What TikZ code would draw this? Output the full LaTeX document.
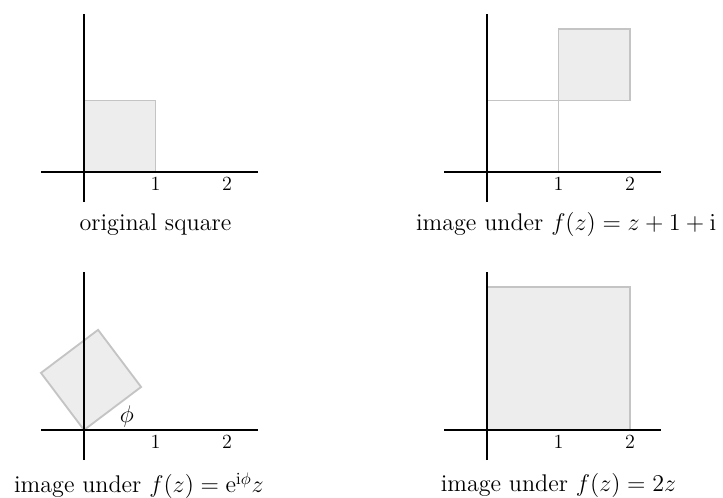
\documentclass[tikz,border=0pt]{standalone}
\usepackage{amssymb}
\usepackage{tikz}
\usetikzlibrary{positioning, calc, arrows.meta}

\begin{document}
\begin{tikzpicture}[x=1.5cm, y=1.5cm,
    axis/.style={line width=1.2pt, black},
    sqr/.style={draw=black!23, fill=black!7, line width=1.1pt},
    edge/.style={draw=black!23, line width=1.1pt},
    tick/.style={below, font=\large},
    caption/.style={font=\Large}]

    \useasboundingbox (-1.175,-4.559) rectangle (8.937,2.406);

    % ;- original square (top left) ;-
    \begin{scope}[shift={(0,0)}]
        \fill[sqr] (0,0) rectangle (1,1);
        \draw[axis] (-0.6,0) -- (2.43,0);
        \draw[axis] (0,-0.42) -- (0,2.21);
        \foreach \n in {1,2}{
            \node[tick] (tl\n) at (\n,0) {$\n$};
        }
        \node[caption] (captl) at (1.0,-0.73) {original square};
    \end{scope}

    % ;- translated square (top right) ;-
    \begin{scope}[shift={(5.636,0)}]
        \draw[edge] (0,1) -- (1,1) -- (1,0);
        \fill[sqr] (1,1) rectangle (2,2);
        \draw[axis] (-0.6,0) -- (2.43,0);
        \draw[axis] (0,-0.42) -- (0,2.21);
        \foreach \n in {1,2}{
            \node[tick] (tr\n) at (\n,0) {$\n$};
        }
        \node[caption, anchor=east] (captr) at (3.29,-0.73) {image under $f(z)=z+1+\mathrm{i}$};
    \end{scope}

    % ;- rotated square (bottom left) ;-
    \begin{scope}[shift={(0,-3.608)}]
        \fill[sqr, rotate=37] (0,0) rectangle (1,1);
        \draw[axis] (-0.6,0) -- (2.43,0);
        \draw[axis] (0,-0.42) -- (0,2.21);
        \foreach \n in {1,2}{
            \node[tick] (bl\n) at (\n,0) {$\n$};
        }
        \node[font=\Large] (phi) at (0.6,0.19) {$\phi$};
        \node[caption, anchor=west] (capbl) at (-1.06,-0.78) {image under $f(z)=\mathrm{e}^{\mathrm{i}\phi}z$};
    \end{scope}

    % ;- scaled square (bottom right) ;-
    \begin{scope}[shift={(5.636,-3.608)}]
        \fill[sqr] (0,0) rectangle (2,2);
        \draw[axis] (-0.6,0) -- (2.43,0);
        \draw[axis] (0,-0.42) -- (0,2.21);
        \foreach \n in {1,2}{
            \node[tick] (br\n) at (\n,0) {$\n$};
        }
        \node[caption] (capbr) at (1.0,-0.78) {image under $f(z)=2z$};
    \end{scope}

\end{tikzpicture}
\end{document}
